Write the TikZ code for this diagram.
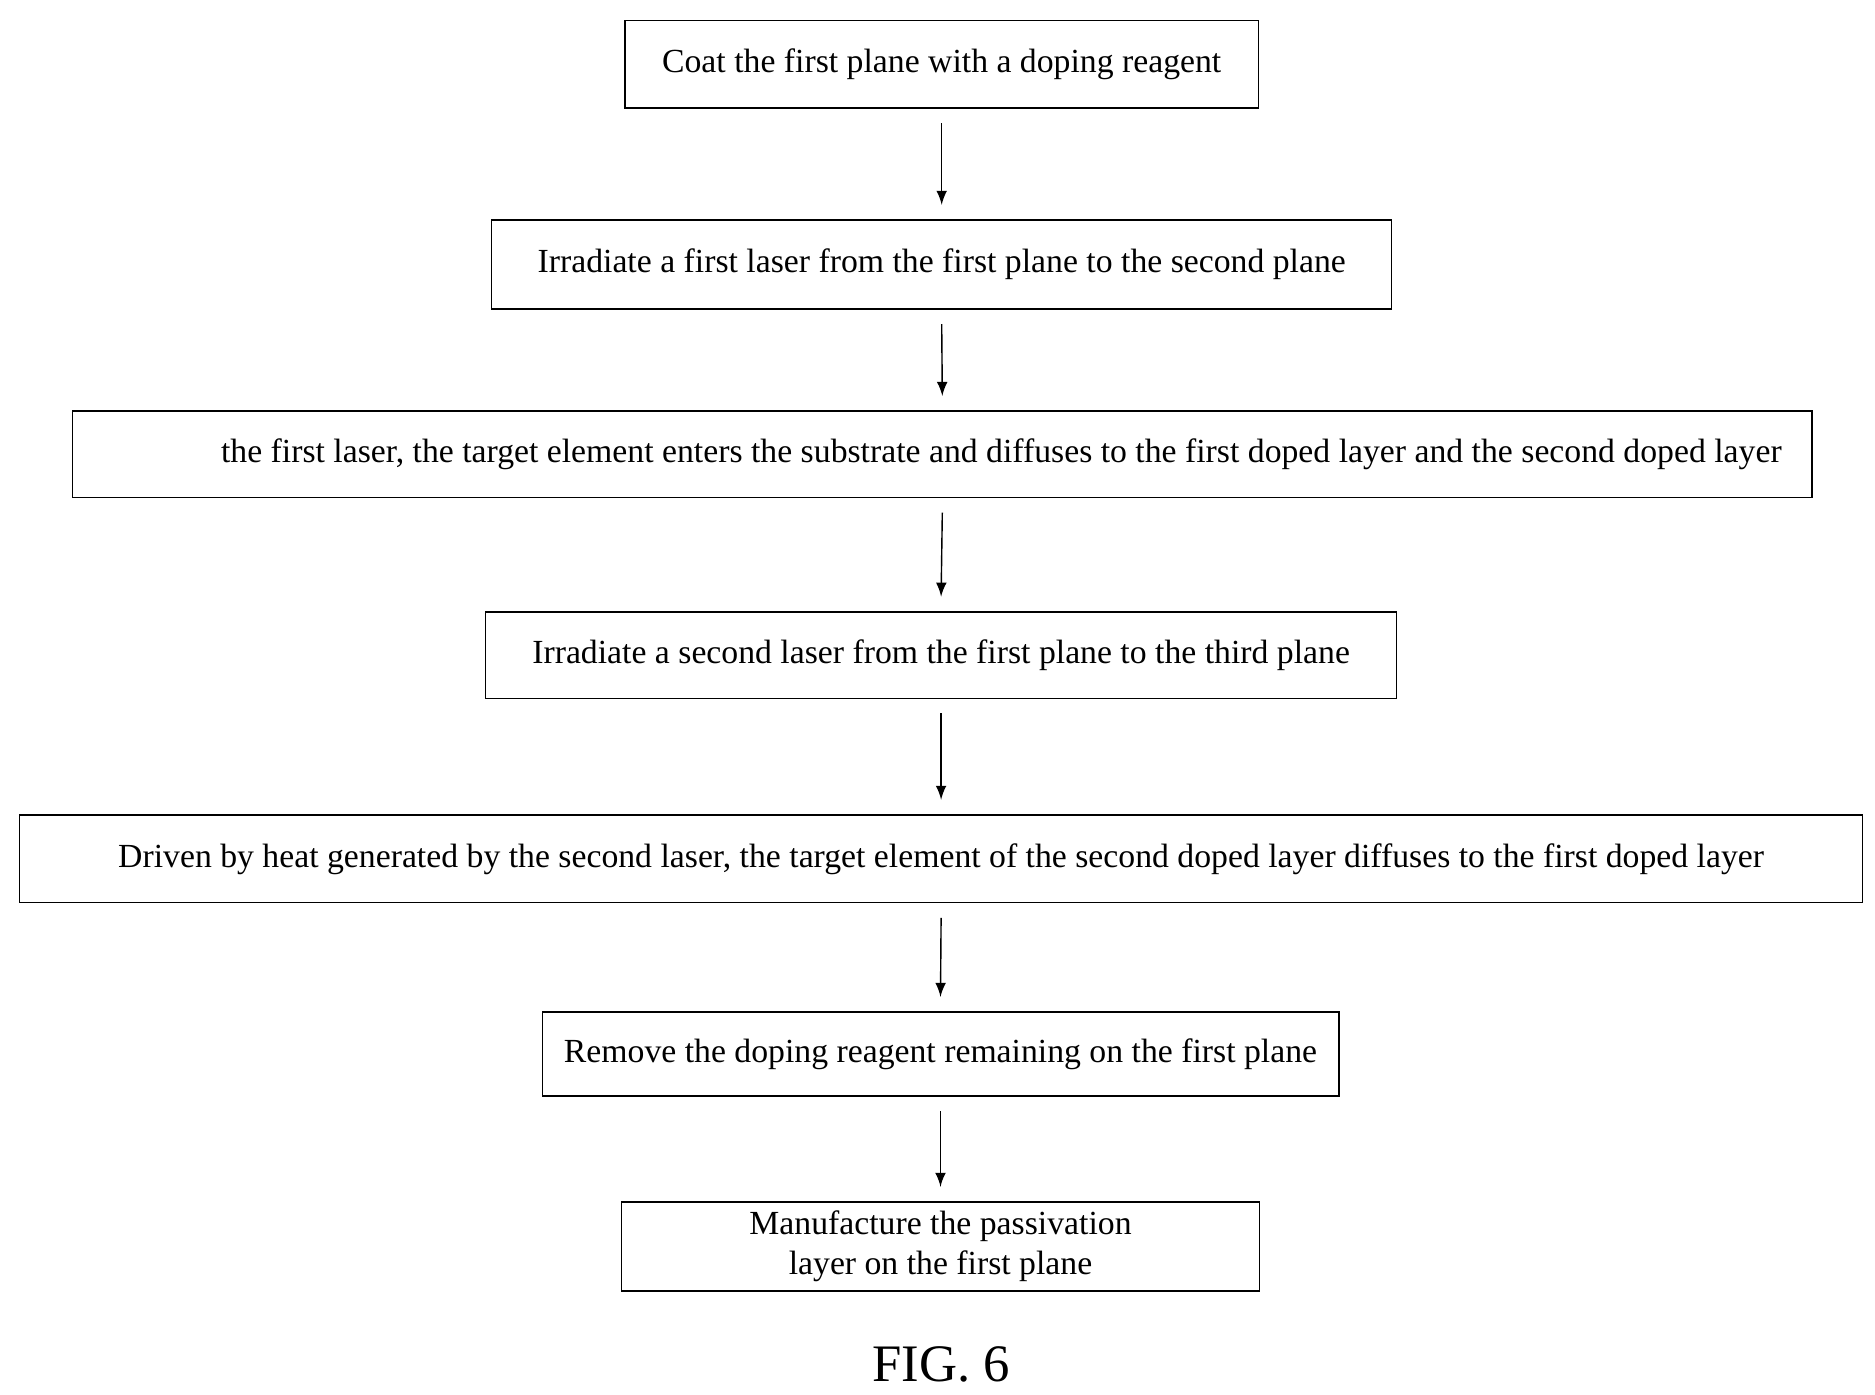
\documentclass[tikz,border=0pt]{standalone}
\usepackage{fontspec}
\setmainfont{Liberation Serif}
\tikzset{
    stepbox/.style = {draw, thin, inner sep = 0pt, font = \fontsize{9.6}{11.5}\selectfont, align = center},
    flow/.style = {-latex, thin}
}
\begin{document}
\begin{tikzpicture}[x = 0.012019cm, y = -0.012019cm]
    \useasboundingbox (0,0) rectangle (1560,1160);
    \node[stepbox, minimum width = 527*0.12019mm, minimum height = 73*0.12019mm] (coat) at (783.5,53.5) {Coat the first plane with a doping reagent};
    \node[stepbox, minimum width = 749*0.12019mm, minimum height = 74*0.12019mm] (laserA) at (783.5,220) {Irradiate a first laser from the first plane to the second plane};
    \node[stepbox, minimum width = 1448*0.12019mm, minimum height = 72*0.12019mm] (enter) at (784,378) {\hspace{3.5em}the first laser, the target element enters the substrate and diffuses to the first doped layer and the second doped layer};
    \node[stepbox, minimum width = 758*0.12019mm, minimum height = 72*0.12019mm] (laserB) at (783,545) {Irradiate a second laser from the first plane to the third plane};
    \node[stepbox, minimum width = 1534*0.12019mm, minimum height = 73*0.12019mm] (drive) at (783,714.5) {Driven by heat generated by the second laser, the target element of the second doped layer diffuses to the first doped layer};
    \node[stepbox, minimum width = 663*0.12019mm, minimum height = 70*0.12019mm] (remove) at (782.5,877) {Remove the doping reagent remaining on the first plane};
    \node[stepbox, minimum width = 531*0.12019mm, minimum height = 74*0.12019mm] (passiv) at (782.5,1037) {Manufacture the passivation\\layer on the first plane};
    \node[font = \fontsize{15}{18}\selectfont] (fig) at (783,1135) {FIG. 6};
    % arrows between the steps
    \foreach \a/\b in {coat/laserA, laserA/enter, enter/laserB, laserB/drive, drive/remove, remove/passiv}
        \draw[flow] ([yshift = -12*0.12019mm]\a.south) -- ([yshift = 12*0.12019mm]\b.north);
\end{tikzpicture}
\end{document}
